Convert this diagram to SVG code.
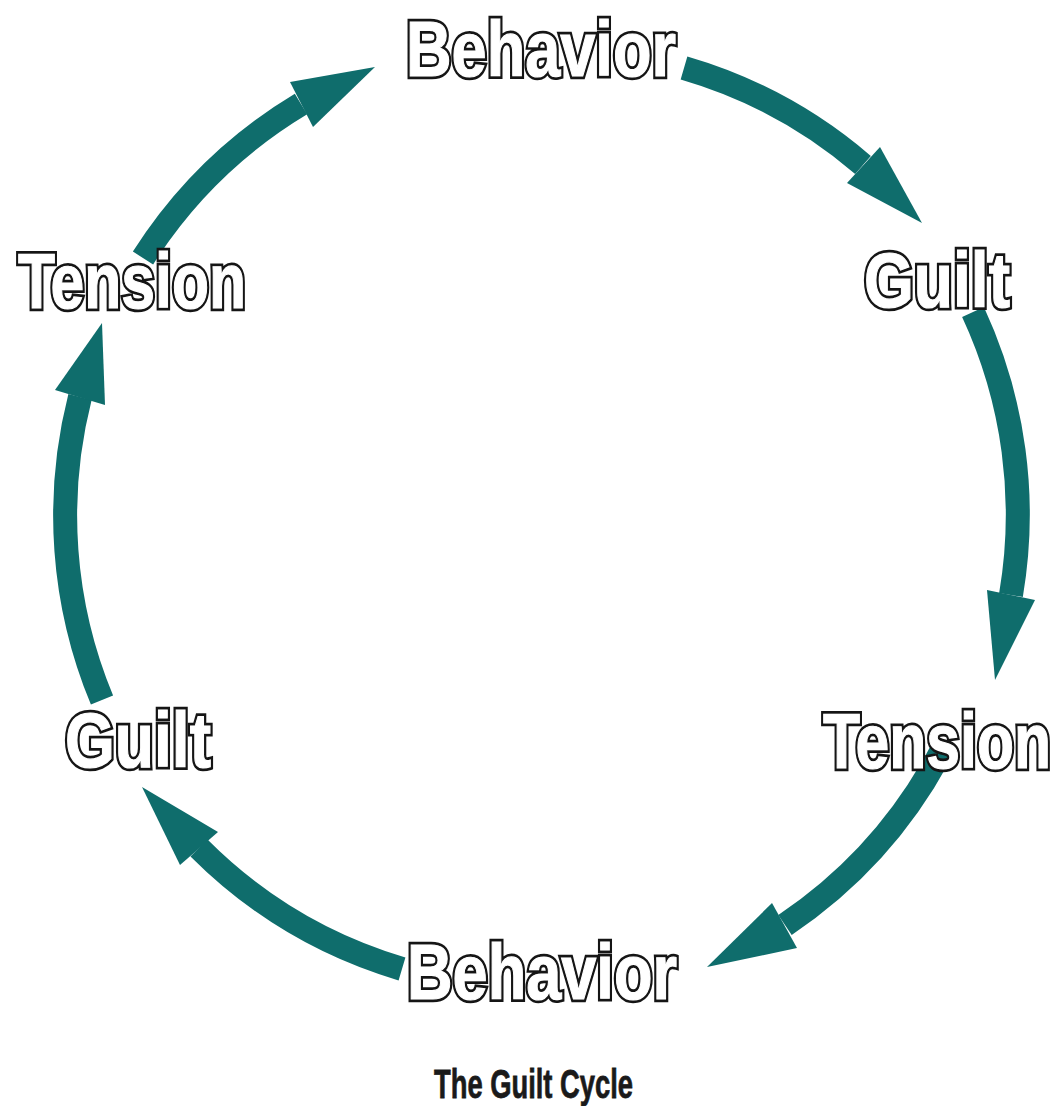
<svg xmlns="http://www.w3.org/2000/svg" width="1056" height="1106" viewBox="0 0 1056 1106">
  <defs>
    <style>
      .shaft { fill: none; stroke: #0f6d6c; stroke-width: 24; stroke-linecap: butt; }
      .head { fill: #0f6d6c; stroke: none; }
      .lt { font-family: "Liberation Sans", Arial, sans-serif; font-weight: bold; font-size: 64px; }
      .outer { fill: #151515; stroke: #151515; stroke-width: 5.5; stroke-linejoin: miter; stroke-miterlimit: 2; }
      .inner { fill: #ffffff; stroke: #ffffff; stroke-width: 1; stroke-linejoin: miter; stroke-miterlimit: 2; }
      .cap { font-family: "Liberation Sans", Arial, sans-serif; font-weight: bold; font-size: 32px; fill: #1a1a1a; stroke: #1a1a1a; stroke-width: 0.6; }
    </style>
    <text id="t-beh" class="lt" x="0" y="0" textLength="270" lengthAdjust="spacingAndGlyphs">Behavior</text>
    <text id="t-guilt" class="lt" x="0" y="0" textLength="146" lengthAdjust="spacingAndGlyphs">Guilt</text>
    <text id="t-ten" class="lt" x="0" y="0" textLength="228" lengthAdjust="spacingAndGlyphs">Tension</text>
  </defs>
  <rect x="0" y="0" width="1056" height="1106" fill="#ffffff"/>

  <g id="connectors">
    <g id="arrow-behavior-guilt">
      <path class="shaft" d="M684,68 A480,480 0 0 1 863,165"/>
      <polygon class="head" points="880,147 922,223 847,183"/>
    </g>
    <g id="arrow-guilt-tension">
      <path class="shaft" d="M973,312 A480,480 0 0 1 1011,595"/>
      <polygon class="head" points="987,590 1035,600 995,680"/>
    </g>
    <g id="arrow-tension-behavior">
      <path class="shaft" d="M942,750 A480,480 0 0 1 785,925"/>
      <polygon class="head" points="797,948 772,903 707,967"/>
    </g>
    <g id="arrow-behavior-guilt2">
      <path class="shaft" d="M402,969 A480,480 0 0 1 199,848"/>
      <polygon class="head" points="218,832 180,865 142,787"/>
    </g>
    <g id="arrow-guilt-tension2">
      <path class="shaft" d="M102,700 A480,480 0 0 1 80,397"/>
      <polygon class="head" points="55,390 105,405 102,323"/>
    </g>
    <g id="arrow-tension-behavior2">
      <path class="shaft" d="M143,258 A480,480 0 0 1 301,104"/>
      <polygon class="head" points="290,82 313,127 375,67"/>
    </g>
  </g>

  <g id="node-behavior-top" transform="translate(406,76) scale(1,1.22)">
    <use href="#t-beh" class="outer"/>
    <use href="#t-beh" class="inner"/>
  </g>
  <g id="node-guilt-right" transform="translate(864,307) scale(1,1.22)">
    <use href="#t-guilt" class="outer"/>
    <use href="#t-guilt" class="inner"/>
  </g>
  <g id="node-tension-right" transform="translate(823,768) scale(1,1.22)">
    <use href="#t-ten" class="outer"/>
    <use href="#t-ten" class="inner"/>
  </g>
  <g id="node-behavior-bottom" transform="translate(407,999) scale(1,1.22)">
    <use href="#t-beh" class="outer"/>
    <use href="#t-beh" class="inner"/>
  </g>
  <g id="node-guilt-left" transform="translate(65,767) scale(1,1.22)">
    <use href="#t-guilt" class="outer"/>
    <use href="#t-guilt" class="inner"/>
  </g>
  <g id="node-tension-left" transform="translate(18,308) scale(1,1.22)">
    <use href="#t-ten" class="outer"/>
    <use href="#t-ten" class="inner"/>
  </g>

  <g id="caption" transform="translate(434,1098) scale(1,1.27)">
    <text class="cap" x="0" y="0" textLength="199" lengthAdjust="spacingAndGlyphs">The Guilt Cycle</text>
  </g>
</svg>
